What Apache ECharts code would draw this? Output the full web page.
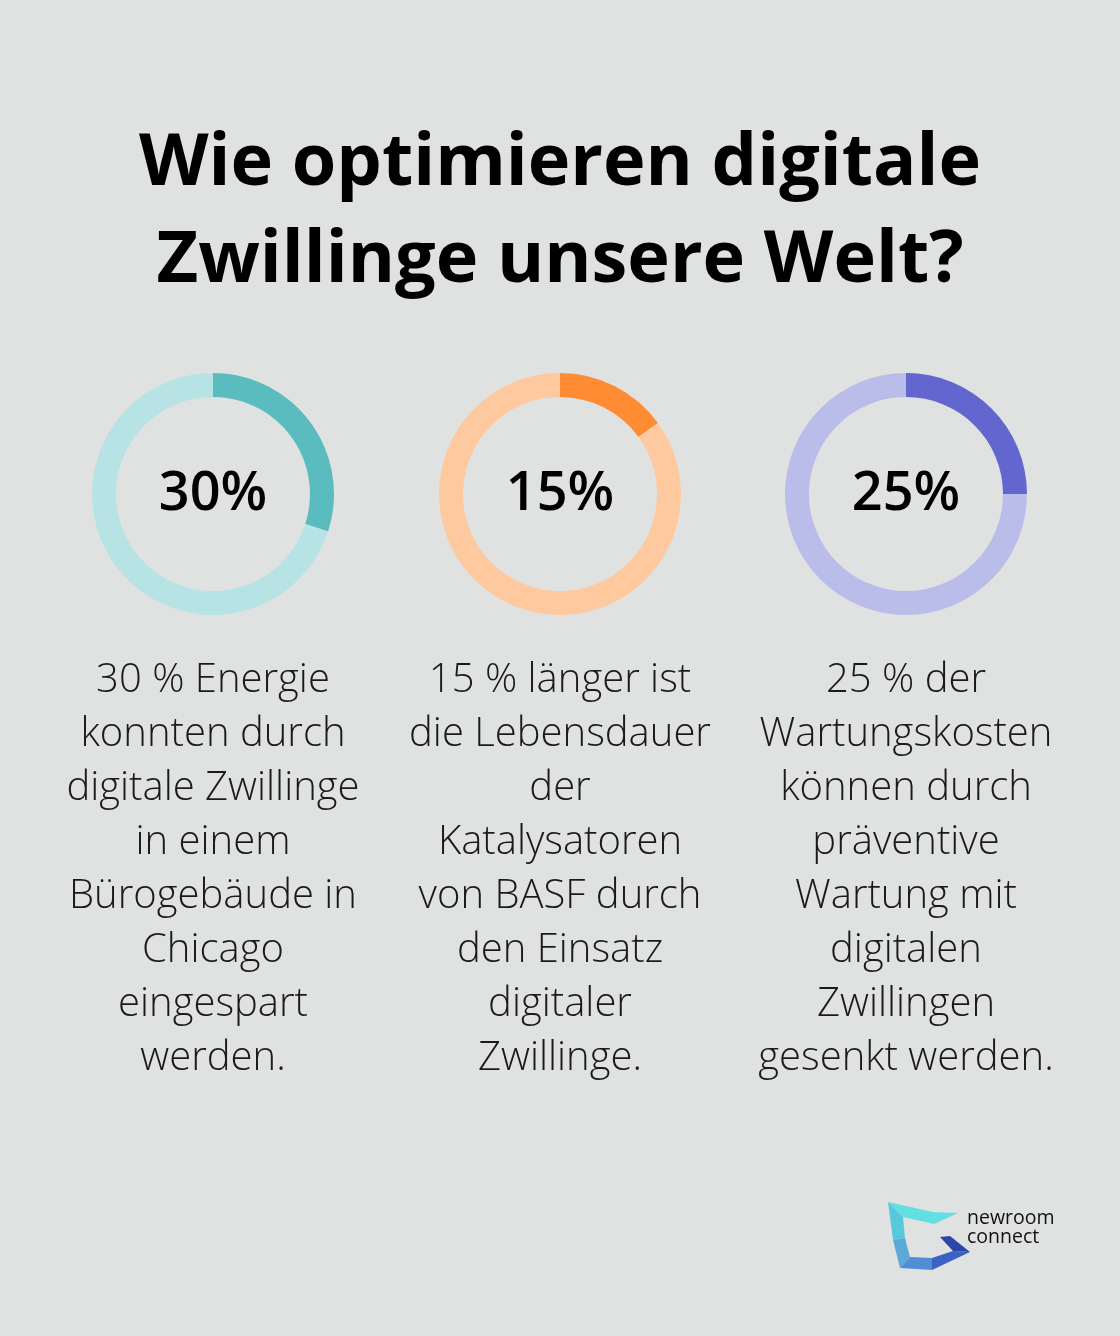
<!DOCTYPE html>
<html>
<head>
<meta charset="utf-8">
<script src="https://cdn.jsdelivr.net/npm/echarts@6/dist/echarts.min.js"></script>
<style>
html,body{margin:0;padding:0;background:#e0e2e1;}
#chart{width:1120px;height:1336px;}
</style>
</head>
<body>
<div id="chart"></div>
<script>
const titleLines = ['Wie optimieren digitale', 'Zwillinge unsere Welt?'];
const percentValues = [30, 15, 25];
const percentLabels = ['30%', '15%', '25%'];
const descriptions = [
  ['30 % Energie', 'konnten durch', 'digitale Zwillinge', 'in einem', 'Bürogebäude in', 'Chicago', 'eingespart', 'werden.'],
  ['15 % länger ist', 'die Lebensdauer', 'der', 'Katalysatoren', 'von BASF durch', 'den Einsatz', 'digitaler', 'Zwillinge.'],
  ['25 % der', 'Wartungskosten', 'können durch', 'präventive', 'Wartung mit', 'digitalen', 'Zwillingen', 'gesenkt werden.']
];
const mainColors = ['#5bbcbf', '#ff8c33', '#6366cf'];
const lightColors = ['#b8e3e5', '#ffc9a0', '#babdea'];
const centersX = [213, 560, 906];

const chart = echarts.init(document.getElementById('chart'));

const series = percentValues.map((v, i) => ({
  type: 'pie',
  center: [centersX[i], 494],
  radius: [97, 121],
  startAngle: 90,
  clockwise: true,
  silent: true,
  animation: false,
  label: { show: false },
  labelLine: { show: false },
  itemStyle: { borderWidth: 0 },
  data: [
    { value: v, itemStyle: { color: mainColors[i] } },
    { value: 100 - v, itemStyle: { color: lightColors[i] } }
  ]
}));

const titles = [
  {
    text: titleLines.join('\n'),
    left: 560, top: 116, textAlign: 'center', padding: 0,
    textStyle: { fontFamily: 'Open Sans', fontWeight: 'bold', fontSize: 72, lineHeight: 97, color: '#000' }
  }
];
percentLabels.forEach((t, i) => {
  titles.push({
    text: t, left: centersX[i], top: 465, textAlign: 'center', padding: 0,
    textStyle: { fontFamily: 'Open Sans', fontWeight: 600, fontSize: 54, lineHeight: 60, color: '#000' }
  });
  titles.push({
    text: descriptions[i].join('\n'), left: centersX[i], top: 654, textAlign: 'center', padding: 0,
    textStyle: { fontFamily: 'Open Sans', fontWeight: 300, fontSize: 40, lineHeight: 54, color: '#1a1a1a' }
  });
});

chart.setOption({
  backgroundColor: '#e0e2e1',
  animation: false,
  title: titles,
  series: series,
  graphic: [
    { type: 'polygon', shape: { points: [[888,1202],[933,1212],[958,1213],[934,1224],[903,1217]] }, style: { fill: '#62dfe2' } },
    { type: 'polygon', shape: { points: [[888,1202],[903,1217],[905,1238],[893,1240]] }, style: { fill: '#56c9dc' } },
    { type: 'polygon', shape: { points: [[893,1240],[905,1238],[910,1257],[900,1268]] }, style: { fill: '#5aa9d6' } },
    { type: 'polygon', shape: { points: [[900,1268],[910,1257],[932,1258],[932,1270]] }, style: { fill: '#4f8ed6' } },
    { type: 'polygon', shape: { points: [[932,1258],[953,1251],[970,1252],[932,1270]] }, style: { fill: '#3a62c4' } },
    { type: 'polygon', shape: { points: [[940,1237],[950,1236],[970,1252],[953,1251]] }, style: { fill: '#2d44a8' } },
    { type: 'text', style: { text: 'newroom', x: 967, y: 1218, fontFamily: 'Open Sans', fontSize: 19.5, fill: '#111', textVerticalAlign: 'middle' } },
    { type: 'text', style: { text: 'connect', x: 967, y: 1237, fontFamily: 'Open Sans', fontSize: 19.5, fill: '#111', textVerticalAlign: 'middle' } }
  ]
});
</script>
</body>
</html>
